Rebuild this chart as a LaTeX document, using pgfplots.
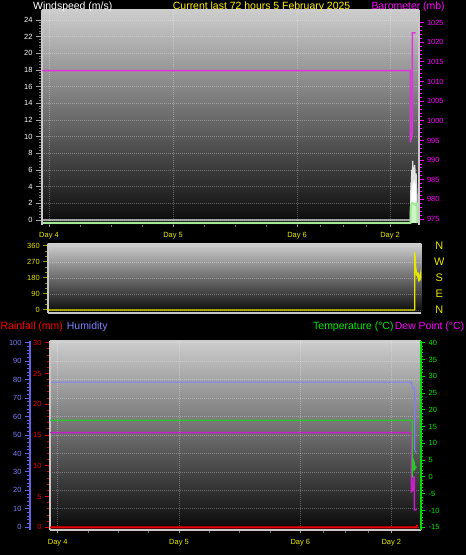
\documentclass[border=0pt]{standalone}
\usepackage{fontspec}
\setmainfont{Liberation Sans}
\usepackage{pgfplots}
\pgfplotsset{compat=1.18}

\definecolor{frameGray}{RGB}{200,200,200}
\definecolor{tickGray}{RGB}{165,165,165}
\definecolor{minorGray}{RGB}{115,115,115}
\definecolor{dayYellow}{RGB}{235,235,0}
\definecolor{baroMag}{RGB}{255,0,255}
\definecolor{baroLine}{RGB}{225,50,225}
\definecolor{gustCol}{RGB}{225,225,225}
\definecolor{avgCol}{RGB}{165,232,150}
\definecolor{avgFill}{RGB}{205,245,200}
\definecolor{dirYellow}{RGB}{230,230,0}
\definecolor{dirTick}{RGB}{150,150,0}
\definecolor{rainRed}{RGB}{240,0,0}
\definecolor{humBlue}{RGB}{128,128,255}
\definecolor{humAxis}{RGB}{100,100,235}
\definecolor{tempGreen}{RGB}{40,200,40}
\definecolor{tempAxis}{RGB}{0,220,0}
\definecolor{tempLabel}{RGB}{0,235,0}
\definecolor{dewMag}{RGB}{200,30,200}
\definecolor{bgTop}{RGB}{205,205,205}
\definecolor{bgBottom}{RGB}{8,8,8}

\newcommand{\hdr}{\fontsize{10.5}{12}\selectfont}

\pgfplotsset{
  base/.style={
    scale only axis, anchor=south west,
    /pgf/number format/assume math mode=true,
    /pgf/number format/1000 sep={},
    scaled ticks=false,
    tick label style={font=\fontsize{7.5}{8}\selectfont},
    tick align=outside,
    axis line style={-},
  },
  panel/.style={base,
    axis background/.style={shade, top color=bgTop, bottom color=bgBottom},
    grid style={white, opacity=0.3, line width=0.8bp, dash pattern=on 1bp off 1bp},
  },
  overlay/.style={base, axis x line=none, xtick=\empty},
  daylabels/.style={
    xtick={0,24,48,66}, xticklabels={Day 4,Day 5,Day 6,Day 2},
    minor xtick={6,12,18,30,36,42,52.5,57,61.5},
    xticklabel style={text=dayYellow},
    major tick length=2.5bp, minor tick length=2.5bp,
    major tick style={draw=tickGray, line width=0.9bp},
    minor tick style={draw=minorGray, line width=0.9bp},
  },
  % panel geometries
  windbox/.style={at={(42bp,330bp)}, width=377bp, height=215bp,
    xmin=-1.355, xmax=71.6},
  dirbox/.style={at={(47.7bp,242bp)}, width=373.6bp, height=69bp,
    xmin=-1.4, xmax=71.8},
  tempbox/.style={at={(50bp,25bp)}, width=370.7bp, height=189.3bp,
    xmin=-1.52, xmax=71.82},
}

\begin{document}
\begin{tikzpicture}
\fill[black] (0,0) rectangle (466bp,555bp);
\path[use as bounding box] (0,0) rectangle (466bp,555bp);

% ---------------- Wind speed and barometer ----------------
\begin{axis}[panel, windbox, ymin=-0.6, ymax=25.2,
  axis x line*=bottom, axis y line*=left,
  x axis line style={draw=none}, y axis line style={draw=none},
  daylabels, xticklabel style={yshift=-1.5bp},
  ytick={0,2,...,24}, yticklabels={}, ytick style={draw=none},
  xmajorgrids, ymajorgrids]
% wind gust
\addplot[draw=gustCol, line width=1.3bp, fill=white] coordinates {
  (-1.355,0) (69.95,0) (70.0,2.5) (70.06,4.5) (70.12,3.8) (70.2,6.0)
  (70.27,4.2) (70.33,5.0) (70.39,7.1) (70.45,5.2) (70.52,4.6) (70.58,5.5)
  (70.65,4.8) (70.72,5.9) (70.78,6.6) (70.84,5.0) (70.9,4.4) (70.96,5.3)
  (71.03,5.6) (71.1,4.2) (71.16,3.6) (71.2,2.8) (71.22,0)};
% average wind
\addplot[draw=avgCol, line width=2bp, fill=avgFill, yshift=-3bp] coordinates {
  (-1.355,0) (69.95,0) (70.0,1.5) (70.1,2.2) (70.3,2.4) (70.6,2.3)
  (70.9,2.2) (71.1,2.4) (71.25,2.3) (71.3,0)};
\end{axis}

\begin{axis}[overlay, windbox, ymin=-0.6, ymax=25.2,
  axis y line*=left, y axis line style={draw=frameGray, line width=1.6bp},
  ytick={0,2,...,24}, minor y tick num=5,
  major tick length=6bp, minor tick length=3bp,
  major tick style={draw=tickGray, line width=0.9bp},
  minor tick style={draw=minorGray, line width=0.9bp},
  yticklabel style={text=white}]
\end{axis}

\begin{axis}[overlay, windbox, ymin=973.47, ymax=1028.23,
  axis y line*=right, y axis line style={draw=frameGray, line width=1.6bp},
  ytick={975,980,...,1025}, minor y tick num=4,
  major tick length=4.5bp, minor tick length=2.5bp,
  tick style={draw=baroMag, line width=0.9bp},
  yticklabel style={text=baroMag}]
\addplot[baroLine, line width=1.4bp] coordinates {
  (-1.355,1012.8) (69.93,1012.8) (69.93,994.5) (70.31,997)
  (70.31,1022.4) (70.97,1022.4)};
\end{axis}

% ---------------- Wind direction ----------------
\begin{axis}[panel, dirbox, ymin=-16.9, ymax=371.25,
  axis x line*=bottom, axis y line*=left,
  axis line style={draw=frameGray, line width=1.6bp},
  xtick=\empty,
  ytick={0,90,...,360}, minor y tick num=2,
  major tick length=4.5bp, minor tick length=3bp,
  tick style={draw=dirTick, line width=1bp},
  yticklabel style={text=dirYellow},
  ymajorgrids]
\addplot[dirYellow, line width=1.3bp] coordinates {
  (-1.4,0) (70.5,0) (70.5,326) (70.6,300) (70.66,250) (70.75,235)
  (70.86,200) (71.0,205) (71.15,185) (71.25,210) (71.35,160) (71.45,200)
  (71.55,165) (71.65,195) (71.72,178)};
\end{axis}

\begin{axis}[overlay, dirbox, ymin=-16.9, ymax=371.25,
  axis y line*=right, y axis line style={draw=none},
  ytick={0,90,180,270,360}, yticklabels={N,E,S,W,N},
  ytick style={draw=none},
  yticklabel style={text=dirYellow, font=\fontsize{11}{12}\selectfont,
    anchor=center, xshift=13.7bp}]
\end{axis}

% ---------------- Humidity, rainfall, temperature ----------------
\begin{axis}[panel, tempbox, ymin=-1.46, ymax=101.08,
  axis x line*=bottom, axis y line*=left,
  x axis line style={draw=frameGray, line width=1.6bp},
  y axis line style={draw=none},
  daylabels, xticklabel style={yshift=-3.5bp},
  ytick={0,10,...,100}, yticklabels={}, ytick style={draw=none},
  xmajorgrids, ymajorgrids]
% humidity
\addplot[humBlue, line width=1bp] coordinates {
  (-1.52,78.7) (69.96,78.7) (70.2,75.4) (70.64,75.4) (70.64,42)
  (70.75,40.8) (71.0,40.8)};
\end{axis}

\begin{axis}[overlay, tempbox, ymin=-0.438, ymax=30.324,
  axis y line*=left, y axis line style={draw=frameGray, line width=1.6bp},
  ytick={0,5,...,30}, minor y tick num=4,
  major tick length=5bp, minor tick length=2.5bp,
  tick style={draw=rainRed, line width=0.9bp},
  yticklabel style={text=rainRed}]
% rainfall
\addplot[rainRed, line width=2bp] coordinates {
  (-1.52,0) (71.0,0) (71.09,0.4)};
\end{axis}

\begin{axis}[overlay, tempbox, ymin=-15.80, ymax=40.59,
  axis y line*=right, y axis line style={draw=tempAxis, line width=2bp},
  ytick={-15,-10,...,40}, minor y tick num=4,
  major tick length=4.5bp, minor tick length=2bp,
  tick style={draw=tempAxis, line width=1bp},
  yticklabel style={text=tempLabel}]
% dew point
\addplot[dewMag, line width=1.4bp] coordinates {
  (-1.52,13.2) (69.96,13.2) (69.96,-4.4) (70.3,-4.0) (70.35,0.1)
  (70.56,0.0) (70.56,-9.8) (71.0,-9.8)};
% temperature
\addplot[tempGreen, line width=1.4bp] coordinates {
  (-1.52,16.9) (70.16,16.9) (70.16,-0.2) (70.3,5.3) (70.4,4.8)
  (70.5,2.0) (70.6,3.5) (70.7,2.6) (70.8,3.0) (71.03,2.8)};
\end{axis}

% humidity scale, set apart to the left
\begin{axis}[overlay, at={(30bp,25bp)}, width=1bp, height=189.3bp,
  xmin=0, xmax=1, ymin=-1.46, ymax=101.08,
  axis y line*=left, y axis line style={draw=humAxis, line width=2.3bp},
  ytick={0,10,...,100}, minor y tick num=4,
  major tick length=5bp, minor tick length=2.5bp,
  tick style={draw=humAxis, line width=0.9bp},
  yticklabel style={text=humBlue}]
\end{axis}

% ---------------- Headings ----------------
\node[anchor=base west, inner sep=0, text=white] at (33bp,545.5bp) {\hdr Windspeed (m/s)};
\node[anchor=base west, inner sep=0, text=yellow] at (172.7bp,545.5bp) {\hdr Current last 72 hours 5 February 2025};
\node[anchor=base west, inner sep=0, text=baroMag] at (371.3bp,545.5bp) {\hdr Barometer (mb)};
\node[anchor=base west, inner sep=0, text=red] at (0.5bp,225bp) {\hdr Rainfall (mm)};
\node[anchor=base west, inner sep=0, text=humBlue] at (66.7bp,225bp) {\hdr Humidity};
\node[anchor=base west, inner sep=0, text=tempLabel] at (313bp,225bp) {\hdr Temperature (°C)};
\node[anchor=base west, inner sep=0, text=baroMag] at (394.7bp,225bp) {\hdr Dew Point (°C)};
\end{tikzpicture}
\end{document}
